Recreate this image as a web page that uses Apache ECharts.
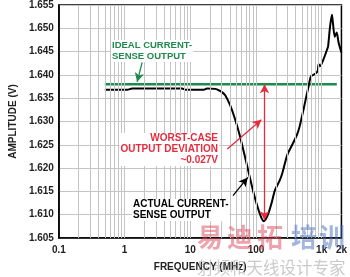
<!DOCTYPE html>
<html><head><meta charset="utf-8">
<script src="https://cdn.jsdelivr.net/npm/echarts@6/dist/echarts.min.js"></script>
<style>html,body{margin:0;padding:0;background:#fff}#c{width:350px;height:277px}</style>
</head><body><div id="c"></div>
<script>
// Data
const actualFreq = [0.5, 1.1, 1.3, 7.5, 8.5, 16, 18, 24, 28, 31, 34.2, 40.4, 47.8, 56.4, 66.7, 78.8, 93.1, 110, 122, 130, 140, 153, 175, 194, 229, 253, 299, 353, 417, 461, 545, 644, 688, 787, 869, 899, 950, 1062, 1213, 1253, 1340, 1433, 1482, 1585, 1694, 1811, 2000];
const actualAmp = [1.6368, 1.6368, 1.6371, 1.6371, 1.6368, 1.6368, 1.6371, 1.6370, 1.6366, 1.6362, 1.6356, 1.6335, 1.6306, 1.6271, 1.6229, 1.6186, 1.6144, 1.6109, 1.6092, 1.6086, 1.6090, 1.6101, 1.6128, 1.6152, 1.6173, 1.6190, 1.6228, 1.6249, 1.6270, 1.6289, 1.6334, 1.6381, 1.6397, 1.6402, 1.6408, 1.6423, 1.6419, 1.6433, 1.6455, 1.6461, 1.6503, 1.6529, 1.6512, 1.6482, 1.6491, 1.6469, 1.6448];
const idealFreq = [0.5, 1700];
const idealAmp = [1.638, 1.638];
const xTickLabels = {0.1: '0.1', 1: '1', 10: '10', 100: '100', 1000: '1k', 2000: '2k'};
const deviationFreq = 135;
const deviationTop = 1.638;
const deviationBottom = 1.6088;

const xGridValues = [];
[0.1, 1, 10, 100, 1000].forEach(d => { for (let i = 1; i <= 9; i++) { const v = +(d * i).toPrecision(3); if (v > 0.1 && v < 2000) xGridValues.push(v); } });

const chart = echarts.init(document.getElementById('c'), null, {renderer: 'canvas'});
const FONT = 'Liberation Sans, Arial, sans-serif';
const GREEN = '#1e8a4e', RED = '#e42c3e';

function arrow(from, to, color, syms) {
  return {
    type: 'line', data: [], silent: true, z: 5,
    markLine: {
      silent: true, animation: false, symbol: syms || ['none', 'arrow'], symbolSize: [7, 9],
      lineStyle: {color: color, width: 1.3, type: 'solid'}, label: {show: false},
      data: [[{coord: from}, {coord: to}]]
    }
  };
}
function note(x, y, text, color, size, align) {
  return {type: 'text', x: x, y: y, z: 100, silent: true,
    style: {text: text, fill: color, font: 'bold ' + size + 'px ' + FONT, lineHeight: 11,
      align: align || 'left', verticalAlign: 'top', backgroundColor: '#fff', padding: [0, 1, 0, 1]}};
}
function wm(x, y, ch, color, size, bold) {
  return {type: 'text', x: x, y: y, z: 110, silent: true,
    style: {text: ch, fill: color, font: (bold ? 'bold ' : '') + size + 'px "Noto Sans CJK SC"', verticalAlign: 'top'}};
}

chart.setOption({
  animation: false,
  grid: {left: 45, right: 8, top: 5, bottom: 36, show: true, borderColor: '#000', borderWidth: 1.5, backgroundColor: 'transparent'},
  xAxis: {
    type: 'log', logBase: 10, min: 0.1, max: 2000,
    name: 'FREQUENCY (MHz)', nameLocation: 'middle', nameGap: 24,
    nameTextStyle: {fontFamily: FONT, fontWeight: 'bold', fontSize: 10, color: '#222'},
    axisLine: {lineStyle: {color: '#000', width: 1.5}},
    axisTick: {show: false}, splitLine: {show: false}, minorSplitLine: {show: false},
    axisLabel: {
      fontFamily: FONT, fontWeight: 'bold', fontSize: 10, color: '#222', margin: 7,
      showMaxLabel: true, showMinLabel: true,
      formatter: function (v) { const r = Math.round(v * 10) / 10; return xTickLabels[r] !== undefined ? xTickLabels[r] : ''; }
    }
  },
  yAxis: {
    type: 'value', min: 1.605, max: 1.655, interval: 0.005,
    name: 'AMPLITUDE (V)', nameLocation: 'middle', nameGap: 36, nameRotate: 90,
    nameTextStyle: {fontFamily: FONT, fontWeight: 'bold', fontSize: 10, color: '#222'},
    axisLine: {show: true, lineStyle: {color: '#000', width: 1.5}},
    axisTick: {show: false},
    splitLine: {show: true, lineStyle: {color: '#c4c4c4', width: 1}},
    axisLabel: {fontFamily: FONT, fontWeight: 'bold', fontSize: 10, color: '#222', margin: 5,
      formatter: v => v.toFixed(3)}
  },
  series: [
    {
      type: 'line', data: [], silent: true, z: 1,
      markLine: {
        silent: true, animation: false, symbol: ['none', 'none'], label: {show: false},
        lineStyle: {color: '#c4c4c4', width: 1, type: 'solid'},
        data: xGridValues.map(v => ({xAxis: v}))
      }
    },
    {
      name: 'ideal', type: 'line', showSymbol: false, silent: true, z: 3,
      lineStyle: {color: GREEN, width: 2.5},
      data: idealFreq.map((f, i) => [f, idealAmp[i]])
    },
    {
      name: 'actual', type: 'line', showSymbol: false, silent: true, smooth: 0.25, z: 4,
      lineStyle: {color: '#000', width: 2},
      data: actualFreq.map((f, i) => [f, actualAmp[i]])
    },
    arrow([deviationFreq, deviationTop], [deviationFreq, deviationBottom], RED, ['arrow', 'arrow']),
    arrow([36.6, 1.6241], [121, 1.6304], RED),
    arrow([44.7, 1.6141], [75, 1.6180], '#000'),
    arrow([1.85, 1.6427], [1.55, 1.6385], GREEN)
  ],
  graphic: [
    note(111, 40, 'IDEAL CURRENT-\nSENSE OUTPUT', GREEN, 9.5),
    note(219, 133, 'WORST-CASE\nOUTPUT DEVIATION\n~0.027V', RED, 10, 'right'),
    note(132, 199, 'ACTUAL CURRENT-\nSENSE OUTPUT', '#000', 10),
    wm(197, 224, '易', 'rgba(222,70,90,0.5)', 26, true),
    wm(227, 224, '迪', 'rgba(222,70,90,0.5)', 26, true),
    wm(257, 224, '拓', 'rgba(222,70,90,0.5)', 26, true),
    wm(291, 224, '培', 'rgba(70,110,190,0.5)', 26, true),
    wm(319, 224, '训', 'rgba(70,110,190,0.5)', 26, true),
    wm(197, 259, '射频和天线设计专家', 'rgba(150,150,150,0.5)', 16.5, false)
  ]
});
</script></body></html>
